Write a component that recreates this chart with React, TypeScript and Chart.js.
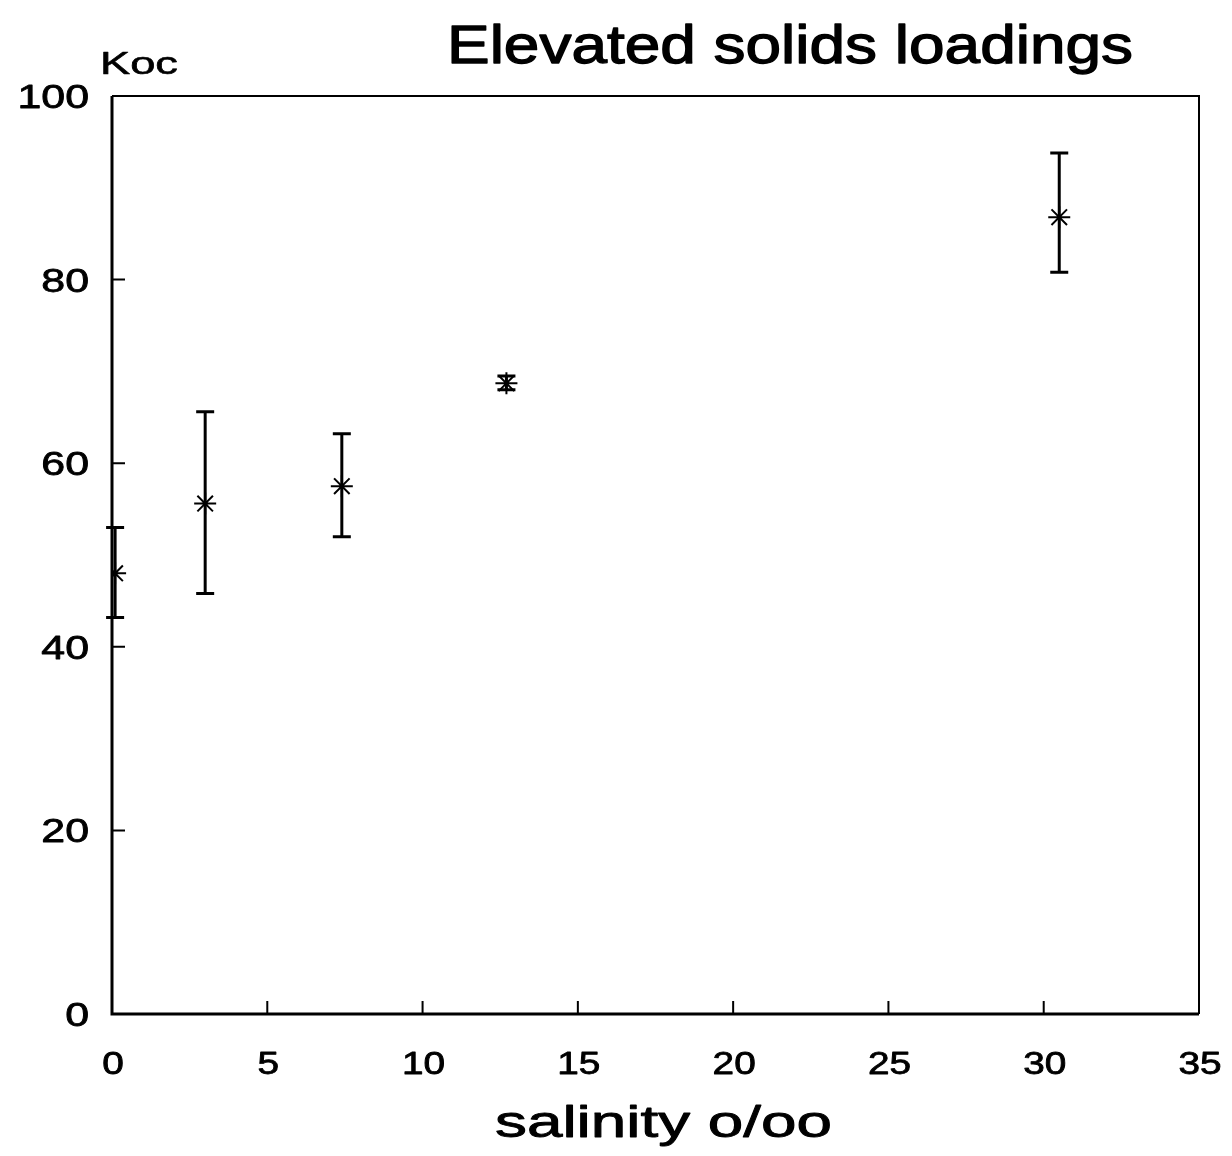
import React, { useEffect, useRef } from "react";
import { Chart, registerables } from "chart.js";

Chart.register(...registerables);

// ---- data ----
const salinity = [0.1, 3.0, 7.4, 12.7, 30.5];
const kocMean = [48.0, 55.6, 57.5, 68.7, 86.8];
const kocHigh = [53.0, 65.6, 63.2, 69.5, 93.8];
const kocLow = [43.2, 45.8, 52.0, 68.0, 80.8];

const xTickValues = [0, 5, 10, 15, 20, 25, 30, 35];
const yTickValues = [0, 20, 40, 60, 80, 100];

const titleText = "Elevated solids loadings";
const yAxisLabel = "Koc";
const xAxisLabel = "salinity o/oo";

const FONT = "'Liberation Sans', Arial, Helvetica, sans-serif";

function fitText(ctx: CanvasRenderingContext2D, text: string, font: string, left: number, right: number, baseline: number, stroke: number) {
  ctx.save();
  ctx.font = font;
  ctx.textAlign = "left";
  ctx.textBaseline = "alphabetic";
  ctx.fillStyle = "#000";
  ctx.strokeStyle = "#000";
  const w = ctx.measureText(text).width;
  const sx = (right - left) / w;
  ctx.translate(left, baseline);
  ctx.scale(sx, 1);
  ctx.fillText(text, 0, 0);
  if (stroke > 0) {
    ctx.lineWidth = stroke;
    ctx.lineJoin = "round";
    ctx.strokeText(text, 0, 0);
  }
  ctx.restore();
}

function stretchText(ctx: CanvasRenderingContext2D, text: string, font: string, x: number, y: number, sx: number, align: CanvasTextAlign, stroke: number) {
  ctx.save();
  ctx.font = font;
  ctx.textAlign = align;
  ctx.textBaseline = "middle";
  ctx.fillStyle = "#000";
  ctx.strokeStyle = "#000";
  ctx.translate(x, y);
  ctx.scale(sx, 1);
  ctx.fillText(text, 0, 0);
  if (stroke > 0) {
    ctx.lineWidth = stroke;
    ctx.lineJoin = "round";
    ctx.strokeText(text, 0, 0);
  }
  ctx.restore();
}

const decorPlugin = {
  id: "decor",
  beforeDatasetsDraw(chart: any) {
    const ctx: CanvasRenderingContext2D = chart.ctx;
    const xs = chart.scales.x;
    const ys = chart.scales.y;
    ctx.save();
    ctx.strokeStyle = "#000";
    ctx.lineCap = "butt";
    for (let i = 0; i < salinity.length; i++) {
      const px = xs.getPixelForValue(salinity[i]);
      const pHi = ys.getPixelForValue(kocHigh[i]);
      const pLo = ys.getPixelForValue(kocLow[i]);
      ctx.lineWidth = 3;
      ctx.beginPath();
      ctx.moveTo(px, pHi);
      ctx.lineTo(px, pLo);
      ctx.stroke();
      ctx.lineWidth = 3;
      ctx.beginPath();
      ctx.moveTo(px - 9, pHi);
      ctx.lineTo(px + 9, pHi);
      ctx.moveTo(px - 9, pLo);
      ctx.lineTo(px + 9, pLo);
      ctx.stroke();
    }
    ctx.restore();
  },
  afterDraw(chart: any) {
    const ctx: CanvasRenderingContext2D = chart.ctx;
    const a = chart.chartArea;
    const xs = chart.scales.x;
    const ys = chart.scales.y;
    ctx.save();
    ctx.strokeStyle = "#000";
    // frame
    ctx.lineWidth = 2;
    ctx.beginPath();
    ctx.moveTo(a.left, a.top);
    ctx.lineTo(a.right, a.top);
    ctx.lineTo(a.right, a.bottom);
    ctx.stroke();
    ctx.lineWidth = 3;
    ctx.beginPath();
    ctx.moveTo(a.left, a.top);
    ctx.lineTo(a.left, a.bottom);
    ctx.lineTo(a.right, a.bottom);
    ctx.stroke();
    // inward ticks
    ctx.lineWidth = 2;
    ctx.beginPath();
    for (const v of xTickValues) {
      if (v === xs.min || v === xs.max) continue;
      const px = xs.getPixelForValue(v);
      ctx.moveTo(px, a.bottom);
      ctx.lineTo(px, a.bottom - 13);
    }
    for (const v of yTickValues) {
      if (v === ys.min || v === ys.max) continue;
      const py = ys.getPixelForValue(v);
      ctx.moveTo(a.left, py);
      ctx.lineTo(a.left + 13, py);
    }
    ctx.stroke();
    ctx.restore();

    // tick labels
    for (const v of xTickValues) {
      stretchText(ctx, String(v), `31px ${FONT}`, xs.getPixelForValue(v) + 1, 1065, 1.25, "center", 0.8);
    }
    for (const v of yTickValues) {
      stretchText(ctx, String(v), `33px ${FONT}`, 89, ys.getPixelForValue(v) + 3, 1.3, "right", 0.8);
    }
    // titles
    fitText(ctx, titleText, `53px ${FONT}`, 447, 1133, 63, 1.3);
    fitText(ctx, yAxisLabel, `32px ${FONT}`, 100, 178, 74, 0.6);
    fitText(ctx, xAxisLabel, `45px ${FONT}`, 495, 832, 1137, 0.9);
  },
};

export default function App() {
  const ref = useRef<HTMLCanvasElement | null>(null);
  useEffect(() => {
    if (!ref.current) return;
    const chart = new Chart(ref.current, {
      type: "scatter",
      data: {
        datasets: [
          {
            label: "Koc",
            data: salinity.map((x, i) => ({ x, y: kocMean[i] })),
            pointStyle: "star",
            pointRadius: 11,
            borderColor: "#000",
            backgroundColor: "#000",
            borderWidth: 2,
            showLine: false,
          },
        ],
      },
      options: {
        responsive: false,
        animation: false,
        devicePixelRatio: 1,
        layout: { padding: { top: 96, right: 33, left: 0, bottom: 0 } },
        plugins: {
          legend: { display: false },
          tooltip: { enabled: false },
          title: { display: false },
        },
        scales: {
          x: {
            type: "linear",
            min: 0,
            max: 35,
            afterFit: (s: any) => {
              s.height = 142;
            },
            ticks: { display: false, stepSize: 5 },
            grid: { display: false, drawTicks: false },
            border: { display: false },
          },
          y: {
            type: "linear",
            min: 0,
            max: 100,
            afterFit: (s: any) => {
              s.width = 112;
            },
            ticks: { display: false, stepSize: 20 },
            grid: { display: false, drawTicks: false },
            border: { display: false },
          },
        },
      } as any,
      plugins: [decorPlugin],
    });
    return () => chart.destroy();
  }, []);
  return (
    <div style={{ position: "fixed", left: 0, top: 0, width: 1232, height: 1156, background: "#fff" }}>
      <canvas ref={ref} width={1232} height={1156} style={{ width: 1232, height: 1156, display: "block" }} />
    </div>
  );
}
